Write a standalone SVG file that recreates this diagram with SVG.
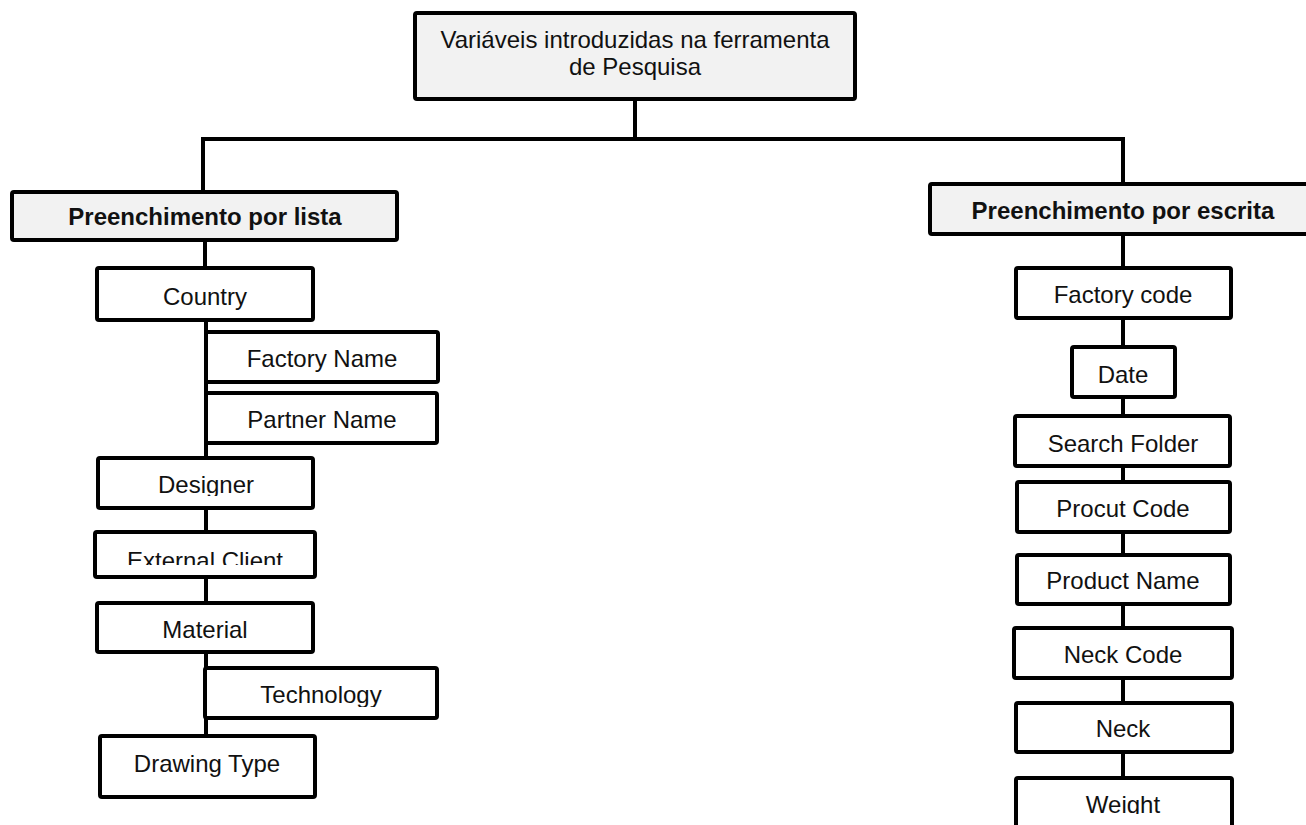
<svg xmlns="http://www.w3.org/2000/svg" width="1306" height="825" viewBox="0 0 1306 825">
  <style>
    .box { fill: #ffffff; stroke: #000000; stroke-width: 4; }
    .head { fill: #f2f2f2; stroke: #000000; stroke-width: 4; }
    .lbl { font-family: "Liberation Sans", Arial, sans-serif; font-size: 24px; fill: #111111; text-anchor: middle; }
    .bold { font-weight: bold; }
    .wire { fill: none; stroke: #000000; stroke-width: 4; stroke-linecap: square; }
  </style>
  <defs>
    <clipPath id="clipDesigner"><rect x="98" y="458" width="215" height="38"/></clipPath>
    <clipPath id="clipExternal"><rect x="95" y="532" width="220" height="33"/></clipPath>
    <clipPath id="clipTechnology"><rect x="205" y="668" width="232" height="39"/></clipPath>
    <clipPath id="clipWeight"><rect x="1016" y="778" width="216" height="36"/></clipPath>
  </defs>

  <!-- connectors -->
  <g id="connectors">
    <path class="wire" d="M635 99 V139 M203 139 H1123 M203 139 V192 M1123 139 V184"/>
    <path class="wire" d="M205 240 V268 M206 320 V458 M206 508 V532 M206 577 V603 M206 652 V736"/>
    <path class="wire" d="M1123 234 V268 M1123 318 V347 M1123 397 V416 M1123 466 V482 M1123 532 V555 M1123 604 V628 M1123 678 V703 M1123 752 V778"/>
  </g>

  <!-- root -->
  <g id="root">
    <rect class="head" x="415" y="13" width="440" height="86" rx="2"/>
    <text class="lbl" x="635" y="48">Variáveis introduzidas na ferramenta</text>
    <text class="lbl" x="635" y="75">de Pesquisa</text>
  </g>

  <!-- left branch -->
  <g id="lista">
    <rect class="head" x="12" y="192" width="385" height="48" rx="2"/>
    <text class="lbl bold" x="205" y="225">Preenchimento por lista</text>
  </g>
  <g id="country">
    <rect class="box" x="97" y="268" width="216" height="52" rx="2"/>
    <text class="lbl" x="205" y="305">Country</text>
  </g>
  <g id="factory-name">
    <rect class="box" x="206" y="332" width="232" height="50" rx="2"/>
    <text class="lbl" x="322" y="367">Factory Name</text>
  </g>
  <g id="partner-name">
    <rect class="box" x="206" y="393" width="231" height="50" rx="2"/>
    <text class="lbl" x="322" y="428">Partner Name</text>
  </g>
  <g id="designer">
    <rect class="box" x="98" y="458" width="215" height="50" rx="2"/>
    <text class="lbl" x="206" y="493" clip-path="url(#clipDesigner)">Designer</text>
  </g>
  <g id="external-client">
    <rect class="box" x="95" y="532" width="220" height="45" rx="2"/>
    <text class="lbl" x="205" y="569" clip-path="url(#clipExternal)">External Client</text>
  </g>
  <g id="material">
    <rect class="box" x="97" y="603" width="216" height="49" rx="2"/>
    <text class="lbl" x="205" y="638">Material</text>
  </g>
  <g id="technology">
    <rect class="box" x="205" y="668" width="232" height="50" rx="2"/>
    <text class="lbl" x="321" y="703" clip-path="url(#clipTechnology)">Technology</text>
  </g>
  <g id="drawing-type">
    <rect class="box" x="100" y="736" width="215" height="61" rx="2"/>
    <text class="lbl" x="207" y="772">Drawing Type</text>
  </g>

  <!-- right branch -->
  <g id="escrita">
    <rect class="head" x="930" y="184" width="386" height="50" rx="2"/>
    <text class="lbl bold" x="1123" y="219">Preenchimento por escrita</text>
  </g>
  <g id="factory-code">
    <rect class="box" x="1016" y="268" width="215" height="50" rx="2"/>
    <text class="lbl" x="1123" y="303">Factory code</text>
  </g>
  <g id="date">
    <rect class="box" x="1072" y="347" width="103" height="50" rx="2"/>
    <text class="lbl" x="1123" y="383">Date</text>
  </g>
  <g id="search-folder">
    <rect class="box" x="1015" y="416" width="215" height="50" rx="2"/>
    <text class="lbl" x="1123" y="452">Search Folder</text>
  </g>
  <g id="procut-code">
    <rect class="box" x="1017" y="482" width="213" height="50" rx="2"/>
    <text class="lbl" x="1123" y="517">Procut Code</text>
  </g>
  <g id="product-name">
    <rect class="box" x="1017" y="555" width="213" height="49" rx="2"/>
    <text class="lbl" x="1123" y="589">Product Name</text>
  </g>
  <g id="neck-code">
    <rect class="box" x="1014" y="628" width="218" height="50" rx="2"/>
    <text class="lbl" x="1123" y="663">Neck Code</text>
  </g>
  <g id="neck">
    <rect class="box" x="1016" y="703" width="216" height="49" rx="2"/>
    <text class="lbl" x="1123" y="737">Neck</text>
  </g>
  <g id="weight">
    <rect class="box" x="1016" y="778" width="216" height="52" rx="2"/>
    <text class="lbl" x="1123" y="813" clip-path="url(#clipWeight)">Weight</text>
  </g>
</svg>
